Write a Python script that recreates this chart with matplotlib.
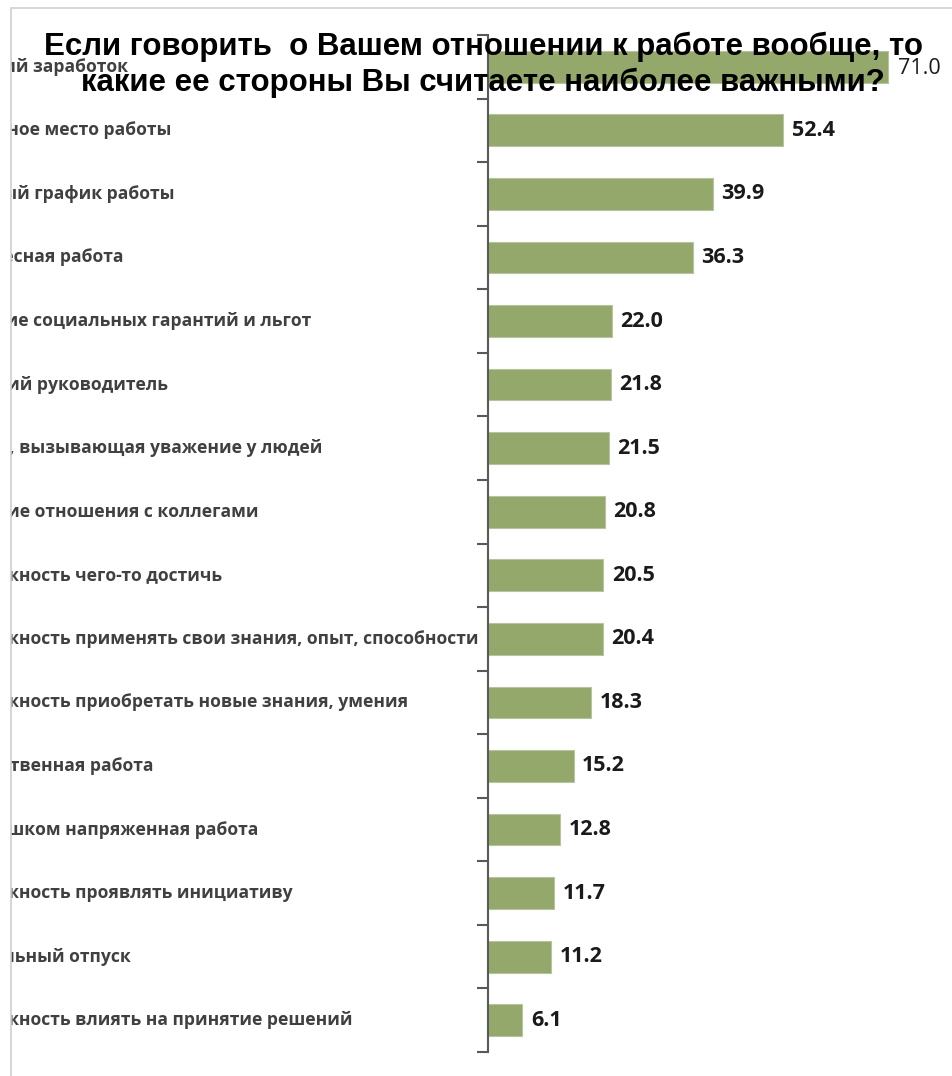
import matplotlib
matplotlib.use("Agg")
import matplotlib.pyplot as plt
from matplotlib.transforms import Bbox, TransformedBbox, blended_transform_factory
from matplotlib.patches import Rectangle
import numpy as np

categories = [
    "Высокий заработок",
    "Надежное место работы",
    "Удобный график работы",
    "Интересная работа",
    "Наличие социальных гарантий и льгот",
    "Хороший руководитель",
    "Работа, вызывающая уважение у людей",
    "Хорошие отношения с коллегами",
    "Возможность чего-то достичь",
    "Возможность применять свои знания, опыт, способности",
    "Возможность приобретать новые знания, умения",
    "Ответственная работа",
    "Не слишком напряженная работа",
    "Возможность проявлять инициативу",
    "Длительный отпуск",
    "Возможность влиять на принятие решений",
]
values = [71.0, 52.4, 39.9, 36.3, 22.0, 21.8, 21.5, 20.8,
          20.5, 20.4, 18.3, 15.2, 12.8, 11.7, 11.2, 6.1]
title_lines = ["Если говорить  о Вашем отношении к работе вообще, то",
               "какие ее стороны Вы считаете наиболее важными?"]

W, H = 952, 1076
fig = plt.figure(figsize=(W / 100, H / 100), dpi=100)
fig.patch.set_facecolor("white")

# plot area: y axis at x=488 px, from y=35 to y=1052 px
ax = fig.add_axes([488 / W, 1 - 1052 / H, (W - 488) / W, (1052 - 35) / H])
ax.patch.set_alpha(0)

y = np.arange(len(categories))
ax.barh(y, values, height=0.5, color="#93a86a", edgecolor="#b8c39f", linewidth=0.8)
ax.set_xlim(0, (W - 488) / 5.634)
ax.set_ylim(len(categories) - 0.5, -0.5)

for s in ["top", "right", "bottom"]:
    ax.spines[s].set_visible(False)
ax.spines["left"].set_color("#595959")
ax.spines["left"].set_linewidth(1.5)
ax.set_xticks([])
ax.set_yticks(np.arange(-0.5, len(categories), 1.0))
ax.set_yticklabels([])
ax.tick_params(axis="y", direction="out", length=8, width=1.5, color="#595959")

# value labels
for i, v in enumerate(values):
    if i == 0:
        ax.text(v + 1.7, i + 0.02, f"{v:.1f}", va="center", ha="left",
                fontsize=15.5, fontfamily="Open Sans", fontweight="normal",
                color="#1a1a1a", clip_on=False)
    else:
        ax.text(v + 1.5, i, f"{v:.1f}", va="center", ha="left",
                fontsize=15.5, fontfamily="Open Sans", fontweight="bold",
                color="#1a1a1a", clip_on=False)

# category labels, left aligned, cut by the chart area border
trans = blended_transform_factory(fig.transFigure, ax.transData)
clip = TransformedBbox(Bbox([[11 / W, 0], [488 / W, 1]]), fig.transFigure)
labels = []
for i, c in enumerate(categories):
    t = ax.text(0, i, c, transform=trans, va="center", ha="left",
                fontsize=12.6, fontfamily="Open Sans", fontweight="bold",
                color="#404040")
    t.set_clip_box(clip)
    t.set_clip_on(True)
    labels.append(t)

# longest label ends just before the axis
fig.canvas.draw()
r = fig.canvas.get_renderer()
longest = max(labels, key=lambda t: t.get_window_extent(r).width)
x0 = (478 - longest.get_window_extent(r).width) / W
for t in labels:
    t.set_x(x0)

# chart area border
fig.patches.append(Rectangle((11 / W, -0.1), 1.2, 1 - 8 / H + 0.1, transform=fig.transFigure,
                             fill=False, edgecolor="#d0d0d0", linewidth=1.2))

# two-line title, baselines at 55 and 91 px
for line, base in zip(title_lines, [55, 91]):
    fig.text(483 / W, 1 - base / H, line, ha="center", va="baseline", fontsize=22.5,
             fontfamily="Liberation Sans", fontweight="bold", color="black")

fig.savefig("out.png", dpi=100)
